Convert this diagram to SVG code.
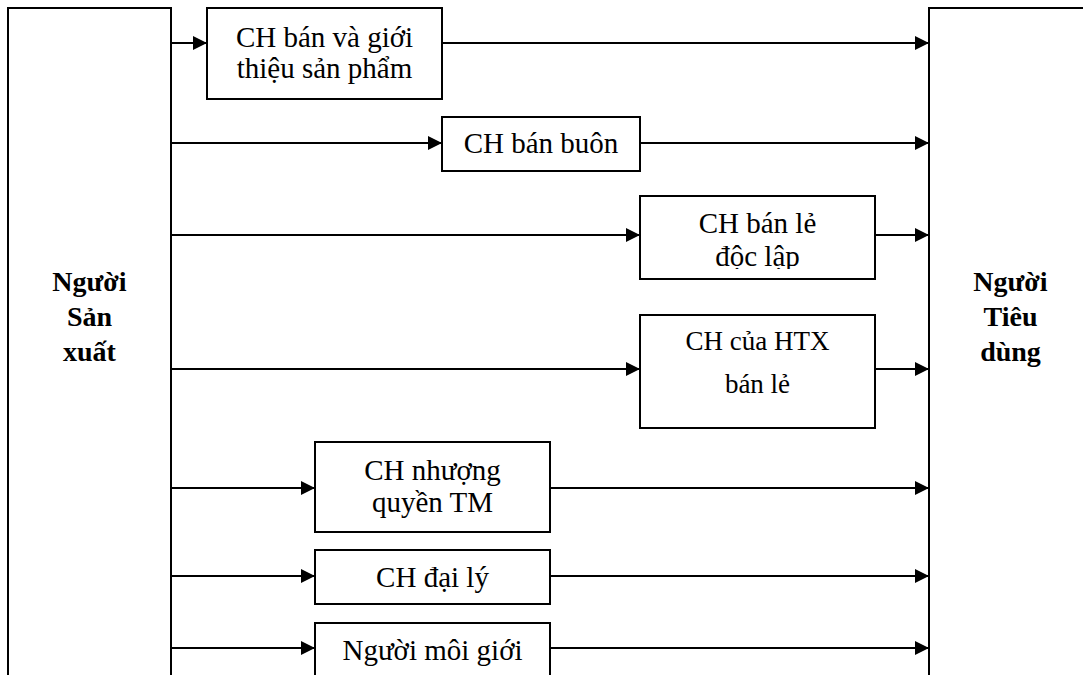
<svg xmlns="http://www.w3.org/2000/svg" width="1083" height="675" viewBox="0 0 1083 675">
  <style>
    .box { fill: #ffffff; stroke: #000000; stroke-width: 2; }
    text { font-family: 'Liberation Serif', Tinos, 'DejaVu Serif', serif; fill: #000000; text-anchor: middle; }
    .lbl { font-size: 29px; }
    .big { font-size: 28px; font-weight: bold; }
    .flow { stroke: #000000; stroke-width: 2; fill: none; marker-end: url(#head); }
  </style>
  <defs>
    <marker id="head" markerUnits="userSpaceOnUse" markerWidth="14" markerHeight="14" refX="14" refY="7" orient="auto">
      <path d="M0,0 L14,7 L0,14 Z" fill="#000000"/>
    </marker>
    <clipPath id="clip-retail">
      <rect x="640" y="196" width="235" height="73"/>
    </clipPath>
  </defs>
  <rect x="0" y="0" width="1083" height="675" fill="#ffffff"/>

  <!-- connectors -->
  <g id="connectors">
    <line class="flow" x1="171" y1="43" x2="207" y2="43"/>
    <line class="flow" x1="442" y1="43" x2="929" y2="43"/>
    <line class="flow" x1="171" y1="143" x2="442" y2="143"/>
    <line class="flow" x1="640" y1="143" x2="929" y2="143"/>
    <line class="flow" x1="171" y1="235" x2="640" y2="235"/>
    <line class="flow" x1="875" y1="235" x2="929" y2="235"/>
    <line class="flow" x1="171" y1="369" x2="640" y2="369"/>
    <line class="flow" x1="875" y1="369" x2="929" y2="369"/>
    <line class="flow" x1="171" y1="488" x2="315" y2="488"/>
    <line class="flow" x1="550" y1="488" x2="929" y2="488"/>
    <line class="flow" x1="171" y1="576" x2="315" y2="576"/>
    <line class="flow" x1="550" y1="576" x2="929" y2="576"/>
    <line class="flow" x1="171" y1="648" x2="315" y2="648"/>
    <line class="flow" x1="550" y1="648" x2="929" y2="648"/>
  </g>

  <!-- producer -->
  <g id="producer">
    <rect class="box" x="8" y="8" width="163" height="700"/>
    <text class="big" x="89.5" y="291" font-family="Liberation Serif, serif">Người</text>
    <text class="big" x="89.5" y="326" font-family="Liberation Serif, serif">Sản</text>
    <text class="big" x="89.5" y="361" font-family="Liberation Serif, serif">xuất</text>
  </g>

  <!-- consumer -->
  <g id="consumer">
    <rect class="box" x="929" y="8" width="163" height="700"/>
    <text class="big" x="1010.5" y="291">Người</text>
    <text class="big" x="1010.5" y="326">Tiêu</text>
    <text class="big" x="1010.5" y="361">dùng</text>
  </g>

  <g id="showroom">
    <rect class="box" x="207" y="8" width="235" height="91"/>
    <text class="lbl" x="324.5" y="47">CH bán và giới</text>
    <text class="lbl" x="324.5" y="78">thiệu sản phẩm</text>
  </g>

  <g id="wholesale">
    <rect class="box" x="442" y="117" width="198" height="54"/>
    <text class="lbl" x="541" y="153">CH bán buôn</text>
  </g>

  <g id="independent-retail">
    <rect class="box" x="640" y="196" width="235" height="83"/>
    <g clip-path="url(#clip-retail)">
      <text class="lbl" x="757.5" y="233">CH bán lẻ</text>
      <text class="lbl" x="757.5" y="266">độc lập</text>
    </g>
  </g>

  <g id="coop-retail">
    <rect class="box" x="640" y="315" width="235" height="113"/>
    <text class="lbl" x="757.5" y="350" style="font-size:27px">CH của HTX</text>
    <text class="lbl" x="757.5" y="393" style="font-size:27px">bán lẻ</text>
  </g>

  <g id="franchise">
    <rect class="box" x="315" y="442" width="235" height="90"/>
    <text class="lbl" x="432.5" y="480">CH nhượng</text>
    <text class="lbl" x="432.5" y="512">quyền TM</text>
  </g>

  <g id="agency">
    <rect class="box" x="315" y="550" width="235" height="54"/>
    <text class="lbl" x="432.5" y="587">CH đại lý</text>
  </g>

  <g id="broker">
    <rect class="box" x="315" y="623" width="235" height="80"/>
    <text class="lbl" x="432.5" y="660">Người môi giới</text>
  </g>
</svg>
